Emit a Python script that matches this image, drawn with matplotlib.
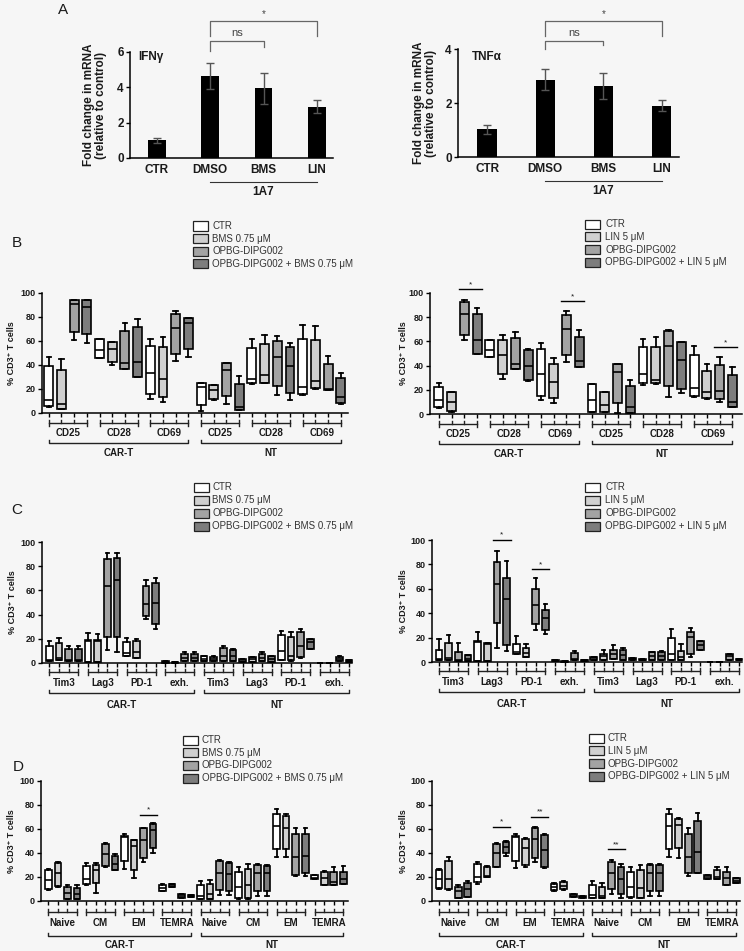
import matplotlib
matplotlib.use("Agg")
import matplotlib.pyplot as plt
from matplotlib.patches import Rectangle

plt.rcParams['font.family'] = ['Liberation Sans', 'DejaVu Sans']

# ---------------- DATA ----------------
A_CATS = ['CTR', 'DMSO', 'BMS', 'LIN']
IFNG_MEAN = [1.0, 4.65, 3.95, 2.9]
IFNG_ERR = [0.14, 0.75, 0.88, 0.36]
TNFA_MEAN = [1.02, 2.86, 2.63, 1.9]
TNFA_ERR = [0.18, 0.39, 0.48, 0.2]

B_MARKERS = ['CD25', 'CD28', 'CD69']
C_MARKERS = ['Tim3', 'Lag3', 'PD-1', 'exh.']
D_SUBSETS = ['Naive', 'CM', 'EM', 'TEMRA']
CELL_TYPES = ['CAR-T', 'NT']

LEG_BMS = ['CTR', 'BMS 0.75 \u03bcM', 'OPBG-DIPG002', 'OPBG-DIPG002 + BMS 0.75 \u03bcM']
LEG_LIN = ['CTR', 'LIN 5 \u03bcM', 'OPBG-DIPG002', 'OPBG-DIPG002 + LIN 5 \u03bcM']

# box stats: (whislo, q1, median, q3, whishi); order per marker: CTR, drug, OPBG, OPBG+drug
B_BMS_STATS = [
    (5, 5.5, 11, 39, 47), (3, 3, 7.7, 36, 44.7), (61, 67.7, 91, 94.5, 94.5), (58.6, 65.7, 88, 94, 94.5),
    (46, 46, 52.5, 61.3, 61.3), (40, 42.3, 53, 59.4, 59.4), (36.7, 36.7, 41.4, 68.2, 75.4), (29.8, 29.8, 42.3, 71.8, 78.7),
    (11.6, 15.5, 33, 56, 61.3), (8.8, 13.3, 28.5, 55.2, 63.5), (43, 48.9, 70.7, 82.3, 85), (47, 53, 75, 79.3, 79.3),
    (1.4, 6.4, 22, 25, 25), (11, 11.9, 18.8, 23, 23), (7.7, 14.4, 36, 41.4, 41.4), (2.2, 2.2, 4.7, 24.3, 31),
    (24.3, 24.9, 28.5, 54, 62), (24.9, 25.4, 32, 57.5, 65.2), (15.2, 22.6, 47, 60, 64), (11, 17, 39.2, 54.7, 58.6),
    (15, 15.5, 21.3, 61.3, 73.5), (20.2, 20.7, 26.8, 60.8, 72.4), (18.8, 18.8, 20.2, 40.6, 47.5), (7.7, 8, 13.3, 29, 33.7),
]
B_LIN_STATS = [
    (5, 5.5, 11.6, 22.7, 25.4), (2, 2.5, 10.2, 18, 18), (61.3, 65.5, 82.6, 92.3, 94), (49.7, 49.7, 60.8, 82.9, 87.3),
    (47.5, 47.5, 53, 61.3, 61.3), (28.7, 33.4, 48.9, 61.3, 65), (37, 37, 41.4, 62.7, 67.7), (27.3, 28.2, 40, 53, 53.9),
    (11.6, 14.9, 33.1, 54.1, 58.6), (9.4, 13, 26.2, 41.4, 45.9), (42.8, 48.9, 70.4, 81.8, 84.8), (38.7, 38.7, 44.2, 64, 69.6),
    (1.4, 1.4, 11.6, 24.9, 24.9), (1.4, 1.4, 7.5, 18.5, 18.5), (0.5, 8.8, 35, 41.2, 41.2), (0.5, 0.5, 5.5, 23.5, 28.2),
    (23.8, 25.4, 33.1, 55, 61.9), (24.9, 25.4, 28.2, 55, 63.3), (14.4, 23.2, 55.8, 69, 69.6), (17.1, 20.7, 44.8, 59.4, 59.4),
    (14.4, 14.9, 21.5, 48.6, 56.6), (12.4, 13, 18, 35.9, 41.4), (10.2, 12.4, 19.3, 40.6, 47), (5.5, 6, 10.2, 32, 38.7),
]
C_BMS_STATS = [
    (1.4, 1.4, 2.2, 14.2, 17.8), (2.2, 2.2, 4.1, 16.4, 20.3), (1.4, 1.4, 2.7, 11.5, 14.2), (1.4, 1.4, 2.7, 11.5, 13.7),
    (0.5, 0.5, 18, 18.6, 24.7), (0.5, 0.5, 17.8, 18.6, 24.1), (11, 21.5, 63.6, 86.3, 91), (8.8, 21.5, 68.5, 86.8, 91),
    (6, 6, 8.2, 17, 20.5), (4.1, 4.1, 8.8, 17.8, 19.7), (36.2, 39.2, 48.6, 63.6, 68.5), (28.2, 32.3, 49.9, 65.8, 69.9),
    (0, 0, 0.7, 1.4, 1.4), (0, 0, 0.7, 1.2, 1.2), (1.4, 1.4, 4.1, 7.7, 8.8), (1.4, 1.4, 4.1, 7.7, 8.8),
    (1.9, 1.9, 3.3, 5.5, 6), (1.4, 1.4, 3.3, 4.9, 6), (1.9, 1.9, 6, 12.3, 13.7), (1.9, 1.9, 6, 10.4, 11.5),
    (0.5, 0.5, 2, 3.3, 3.3), (1.1, 1.1, 3.3, 4.9, 4.9), (1.4, 1.4, 4.1, 7.7, 8.8), (1.1, 1.1, 3.3, 5.5, 6),
    (2.2, 2.7, 9.6, 23.3, 26.8), (1.4, 2.2, 5.5, 21.1, 26), (4.1, 4.9, 14.2, 25.5, 27.9), (11.5, 11.5, 17, 19.7, 19.7),
    (0, 0, 0.2, 0.4, 0.4), (0, 0, 0.2, 0.4, 0.4), (1.4, 1.4, 3.3, 4.9, 5.5), (0.5, 0.5, 1.4, 2.2, 2.2),
]
C_LIN_STATS = [
    (1.4, 1.4, 2.7, 10.1, 18.9), (1.4, 1.4, 3.6, 15.6, 22.5), (0.8, 0.8, 1.9, 8.5, 15.6), (0.8, 0.8, 2.7, 5.5, 5.5),
    (0.8, 0.8, 16.4, 17.3, 24.7), (0.8, 0.8, 15, 15.6, 15.6), (11.8, 32, 63.6, 82.2, 91.2), (8.8, 14.2, 51.5, 68.5, 82.7),
    (6.3, 6.3, 8.2, 14.5, 21.4), (4.1, 4.1, 7.4, 11.8, 14.5), (26, 31.5, 46.6, 59.7, 69), (23.3, 26, 36.4, 43, 47.9),
    (0.5, 0.5, 1.2, 1.9, 1.9), (0.2, 0.2, 0.4, 0.6, 0.6), (1.9, 1.9, 2.7, 7.7, 8.8), (0.8, 0.8, 1.3, 1.9, 1.9),
    (1.9, 1.9, 3, 4.1, 4.1), (1.9, 1.9, 4.9, 6.8, 9.6), (2.7, 2.7, 6.3, 10.1, 14.2), (1.9, 1.9, 5.5, 9.6, 11.8),
    (1.4, 1.4, 2.3, 3.3, 3.3), (1.4, 1.4, 2, 2.7, 2.7), (1.9, 1.9, 4.7, 8.2, 8.2), (1.4, 1.4, 4.7, 8.2, 8.8),
    (1.9, 1.9, 6.8, 19.7, 27.4), (1.9, 1.9, 4.1, 8.8, 15), (4.1, 6.3, 20.5, 24.7, 27.9), (9.6, 9.6, 13.7, 17, 17),
    (0, 0, 0.1, 0.2, 0.2), (0, 0, 0.1, 0.2, 0.2), (1.9, 1.9, 4.7, 6.3, 6.3), (1.4, 1.4, 2, 2.7, 2.7),
]
D_BMS_STATS = [
    (9.4, 10, 17.8, 25.6, 26.4), (11.7, 12.2, 23.3, 31.9, 32.5), (1.9, 1.9, 6.9, 11.7, 13.6), (1.9, 1.9, 6.1, 11.1, 13),
    (13, 13.9, 18, 29.2, 31.9), (6.7, 15, 25.6, 29.7, 31.7), (28.3, 28.9, 38.9, 47.2, 48.6), (25.6, 25.6, 30.6, 37.5, 39.4),
    (26.9, 33.3, 53.3, 54.2, 55.6), (19.4, 25.6, 45.6, 51.1, 51.1), (32.5, 36.1, 50.6, 60.8, 61.1), (40.3, 44.4, 58.9, 64.4, 65),
    (8, 8, 11.1, 13.6, 14.4), (11.7, 11.7, 13, 13.9, 13.9), (2.8, 2.8, 4.2, 5.6, 5.6), (3.3, 3.3, 4.2, 5.3, 5.3),
    (1.9, 1.9, 4.2, 13, 16.4), (1.9, 1.9, 5.6, 14.4, 17.8), (5.3, 8.9, 23.6, 33, 33.9), (4.7, 8.3, 22.2, 31.7, 32.5),
    (1.9, 2.8, 11.7, 24.2, 28.3), (1.9, 2.8, 13, 26.9, 31.1), (4.2, 8.3, 23.3, 29.7, 30.6), (3.9, 8, 23.3, 29.2, 29.7),
    (36.7, 43.1, 62.2, 72.8, 76.4), (36.7, 43.6, 60.8, 70.6, 72.8), (20.6, 21.9, 36.7, 55.6, 61.1), (20.6, 23.3, 37.5, 55.6, 61.1),
    (18, 18, 19.4, 21.4, 21.4), (13.6, 13.6, 19.2, 24.2, 25), (13.6, 13.6, 15.8, 24.2, 28.3), (14.4, 14.4, 18.6, 24.2, 28.9),
]
D_LIN_STATS = [
    (9.7, 10.5, 18.3, 25.8, 26.6), (9.5, 10, 18.3, 33, 36.5), (2.2, 2.2, 8.3, 11.9, 13.3), (3.6, 3.6, 9.7, 15.2, 16.9),
    (14.1, 15.5, 20.2, 30.5, 32.7), (19.7, 19.7, 21, 28.5, 29.4), (28, 28.5, 39.6, 47.4, 48.5), (37.7, 39.6, 45.2, 49.3, 50.1),
    (27.1, 33.5, 53.5, 54.3, 55.7), (28.5, 29.9, 43.8, 52, 52.9), (32.7, 36, 52, 60.9, 61.8), (27.1, 28.5, 42.9, 54.8, 56.2),
    (8.6, 9.1, 11.9, 13.9, 14.7), (9.1, 9.7, 12.5, 15.5, 16.9), (3, 3, 4.4, 5.8, 5.8), (2.2, 2.2, 3.6, 4.2, 4.2),
    (2.2, 2.2, 5, 13.3, 16.6), (2.2, 2.2, 4.4, 11.9, 15.2), (5.8, 9.7, 23.5, 32.7, 34.1), (2.2, 5.8, 18.3, 28.5, 30.7),
    (2.2, 3, 11.9, 24.4, 28.5), (2.2, 2.2, 10.5, 25.8, 29.9), (4.4, 8.3, 23.5, 29.9, 30.7), (4.4, 8.3, 23.5, 29.9, 30.7),
    (36.3, 43.2, 62.3, 72.9, 76.5), (36, 43.8, 63.7, 68.7, 69.5), (20.8, 23, 36.8, 55.7, 60.9), (23, 23.5, 41, 66.8, 73.4),
    (18.3, 18.3, 19.7, 21.6, 21.6), (18, 18, 20.2, 25.8, 28), (13.3, 13.3, 18.8, 24.4, 28), (15.2, 15.2, 16.9, 18.8, 18.8),
]

# significance: (box a, box b, y, label)
B_BMS_SIG = []
B_LIN_SIG = [(2, 3, 103, '*'), (10, 11, 93, '*'), (22, 23, 55, '*')]
C_BMS_SIG = []
C_LIN_SIG = [(6, 7, 100, '*'), (10, 11, 76, '*')]
D_BMS_SIG = [(10, 11, 72, '*')]
D_LIN_SIG = [(6, 7, 62, '*'), (10, 11, 70, '**'), (18, 19, 43, '**')]

# ---------------- FIGURE ----------------
W, H = 744, 951
fig = plt.figure(figsize=(W / 100, H / 100), dpi=100)
fig.patch.set_facecolor('#f6f6f6')
FILLS = ['#ffffff', '#d0d0d0', '#a3a3a3', '#7d7d7d']
TXT = '#1a1a1a'


def rect(x0, y0, x1, y1):
    return [x0 / W, 1 - y1 / H, (x1 - x0) / W, (y1 - y0) / H]


def style_axes(ax, lab_size):
    for s in ['top', 'right']:
        ax.spines[s].set_visible(False)
    for s in ['left', 'bottom']:
        ax.spines[s].set_linewidth(1.1)
    ax.set_facecolor('none')
    ax.tick_params(axis='y', direction='out', length=3, width=1, pad=1.5, labelsize=lab_size)
    for t in ax.get_yticklabels():
        t.set_fontweight('bold')
        t.set_color(TXT)


def bar_panel(px, means, errs, ylim, yticks, title, title_xy, lab_x, sig_ns, sig_star):
    ax = fig.add_axes(rect(*px))
    x = list(range(len(means)))
    ax.bar(x, means, width=0.33, color='black', yerr=errs,
           error_kw=dict(ecolor='#555555', capsize=3, elinewidth=1, capthick=1))
    ax.set_ylim(*ylim)
    ax.set_xlim(-0.5, 3.3)
    ax.set_yticks(yticks)
    ax.set_xticks(x)
    ax.set_xticklabels(A_CATS, fontweight='bold', fontsize=8.5, color=TXT)
    ax.tick_params(axis='x', length=0, pad=4)
    style_axes(ax, 8.5)
    ax.set_ylabel('Fold change in mRNA\n(relative to control)', fontsize=8.5, fontweight='bold',
                  color=TXT, linespacing=1.05)
    ax.yaxis.set_label_coords(lab_x, 0.5)
    ax.text(title_xy[0], title_xy[1], title, transform=ax.transAxes, fontsize=8.5,
            fontweight='bold', color=TXT, va='center', ha='left')
    trans = ax.get_xaxis_transform()
    axh = px[3] - px[1]
    ax.plot([1, 3], [-24 / axh, -24 / axh], transform=trans, clip_on=False, color='#333', lw=0.8)
    ax.text(2, -34 / axh, '1A7', transform=trans, ha='center', va='center', fontsize=8.5,
            fontweight='bold', color=TXT)
    # brackets
    (y_ns, l_ns, r_ns, t_ns) = sig_ns
    ax.plot([1, 1, 2, 2], [l_ns, y_ns, y_ns, r_ns], color='#666', lw=0.9, clip_on=False)
    ax.text(1.5, t_ns, 'ns', ha='center', va='center', fontsize=8, color='#444')
    (y_s, l_s, r_s, t_s) = sig_star
    ax.plot([1, 1, 3, 3], [l_s, y_s, y_s, r_s], color='#666', lw=0.9, clip_on=False)
    ax.text(2, t_s, '*', ha='center', va='center', fontsize=7, color='#444')
    return ax


bar_panel((130, 52, 333, 158), IFNG_MEAN, IFNG_ERR, (0, 6), [0, 2, 4, 6], 'IFN\u03b3', (0.04, 0.95), -0.113,
          (6.6, 6.05, 6.3, 7.1), (7.77, 6.9, 6.9, 8.15))
bar_panel((458, 49, 679, 157), TNFA_MEAN, TNFA_ERR, (0, 4), [0, 2, 4], 'TNF\u03b1', (0.063, 0.93), -0.095,
          (4.29, 4.0, 4.15, 4.6), (5.03, 4.47, 4.47, 5.28))


def box_panel(px, stats, groups, xlim, sigs, offs, lab_xpx, legend_labels, leg):
    ax = fig.add_axes(rect(*px))
    n = len(stats)
    pos = list(range(n))
    bstats = [dict(whislo=s[0], q1=s[1], med=s[2], q3=s[3], whishi=s[4], fliers=[]) for s in stats]
    art = ax.bxp(bstats, positions=pos, widths=0.7, patch_artist=True, showfliers=False,
                 capwidths=0.35, manage_ticks=False,
                 boxprops=dict(linewidth=1.2, edgecolor='black'),
                 medianprops=dict(color='black', linewidth=1.2),
                 whiskerprops=dict(color='black', linewidth=1.3),
                 capprops=dict(color='black', linewidth=1.3))
    for i, b in enumerate(art['boxes']):
        b.set_facecolor(FILLS[i % 4])
    for k in ['boxes', 'whiskers', 'caps', 'medians']:
        for a in art[k]:
            a.set_clip_on(False)
    ax.set_xlim(*xlim)
    ax.set_ylim(0, 100)
    ax.set_yticks([0, 20, 40, 60, 80, 100])
    ax.set_xticks(pos)
    ax.set_xticklabels([])
    ax.tick_params(axis='x', direction='out', length=3, width=1)
    style_axes(ax, 6.5)
    ax.set_ylabel('% CD3\u207a T cells', fontsize=6.5, fontweight='bold', color=TXT)
    ax.yaxis.set_label_coords((lab_xpx - px[0]) / (px[2] - px[0]), 0.5)

    trans = ax.get_xaxis_transform()
    axh = px[3] - px[1]

    def fy(d):
        return -d / axh

    o_br, o_lab, o_grp, o_gtxt = offs
    for g, name in enumerate(groups):
        x0, x1 = 4 * g, 4 * g + 3
        ax.plot([x0, x1], [fy(o_br), fy(o_br)], transform=trans, clip_on=False, color='#222', lw=1)
        for k in range(4):
            xx = x0 + k
            if k in (0, 3):
                ax.plot([xx, xx], [fy(o_br - 3), fy(o_br + 3)], transform=trans, clip_on=False,
                        color='#222', lw=1)
            else:
                ax.plot([xx, xx], [fy(o_br - 3), fy(o_br)], transform=trans, clip_on=False,
                        color='#222', lw=1)
        ax.text((x0 + x1) / 2, fy(o_lab), name, transform=trans, ha='center', va='center',
                fontsize=7, fontweight='bold', color=TXT)
    half = n // 2
    for c, name in enumerate(CELL_TYPES):
        x0 = c * half
        x1 = x0 + half - 1
        ax.plot([x0, x0, x1, x1], [fy(o_grp - 3), fy(o_grp), fy(o_grp), fy(o_grp - 3)],
                transform=trans, clip_on=False, color='#222', lw=1)
        ax.text((x0 + x1) / 2, fy(o_gtxt), name, transform=trans, ha='center', va='center',
                fontsize=7, fontweight='bold', color=TXT)
    for a, b, y, lab in sigs:
        ax.plot([a - 0.4, b + 0.4], [y, y], color='black', lw=1, clip_on=False)
        ax.text((a + b) / 2, y + 4, lab, ha='center', va='center', fontsize=6, color=TXT)

    sx, tx, y0, dy = leg
    for i, lab in enumerate(legend_labels):
        y = y0 + i * dy
        fig.patches.append(Rectangle((sx / W, 1 - (y + 4.5) / H), 15 / W, 9 / H,
                                     transform=fig.transFigure, facecolor=FILLS[i],
                                     edgecolor='#222', lw=0.9))
        fig.text(tx / W, 1 - y / H, lab, fontsize=7, va='center', ha='left', color='#333')
    return ax


box_panel((42, 293, 348, 413), B_BMS_STATS, B_MARKERS * 2, (-0.53, 23.57), B_BMS_SIG,
          (10, 20, 30, 40), 16, LEG_BMS, (193, 212, 226, 12.6))
box_panel((430, 293, 742, 414), B_LIN_STATS, B_MARKERS * 2, (-0.7, 23.76), B_LIN_SIG,
          (10, 20, 30, 40), 408, LEG_LIN, (585, 605, 224, 12.8))
box_panel((42, 542, 352, 663), C_BMS_STATS, C_MARKERS * 2, (-0.75, 31.3), C_BMS_SIG,
          (9, 20, 30, 42), 17, LEG_BMS, (194, 212, 487, 13))
box_panel((432, 540, 742, 662), C_LIN_STATS, C_MARKERS * 2, (-0.72, 31.3), C_LIN_SIG,
          (9, 20, 30, 42), 408, LEG_LIN, (585, 605, 487, 13))
box_panel((41, 781, 348, 901), D_BMS_STATS, D_SUBSETS * 2, (-0.77, 31.5), D_BMS_SIG,
          (11, 22, 35, 44), 16, LEG_BMS, (183, 202, 740, 12.7))
box_panel((432, 781, 740, 901), D_LIN_STATS, D_SUBSETS * 2, (-0.73, 31.4), D_LIN_SIG,
          (11, 22, 35, 44), 408, LEG_LIN, (589, 608, 738, 12.8))

for lab, (x, y) in zip(['A', 'B', 'C', 'D'], [(63, 10), (17, 243), (17, 510), (18, 767)]):
    fig.text(x / W, 1 - y / H, lab, fontsize=11, ha='center', va='center', color=TXT)

fig.savefig('out.png', dpi=100, facecolor=fig.get_facecolor())
